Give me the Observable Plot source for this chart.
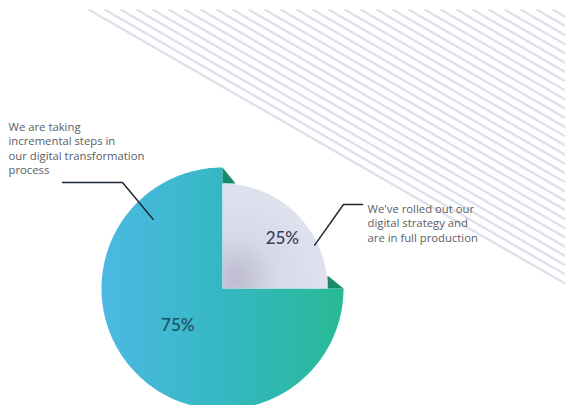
<!DOCTYPE html>
<html><head><meta charset="utf-8">
<script src="https://cdn.jsdelivr.net/npm/d3@7"></script>
<script src="https://cdn.jsdelivr.net/npm/@observablehq/plot@0.6"></script>
<style>
html,body{margin:0;padding:0;background:#fff;}
#chart{width:565px;height:405px;overflow:hidden;}
</style></head><body><div id="chart"></div>
<script>
// ---- data ----
const categories = [
  "We've rolled out our\ndigital strategy and\nare in full production",
  "We are taking\nincremental steps in\nour digital transformation\nprocess"
];
const values = [25, 75];
const valueLabels = ["25%", "75%"];

// ---- layout / style ----
const W = 565, H = 405;
const cx = 222, cy = 288;
const radii = [105, 121];
const fills = ["url(#gLav)", "url(#gTeal)"];
const labelColors = ["#3b3f58", "#1b4f62"];
const labelPos = [{r: 0.74, f: 0.56}, {r: 0.48, f: 0.52}];   // fraction of radius / of slice angle
const captionPos = [{x: 367, y: 202}, {x: 8, y: 120}];
const leaders = [
  {start: [362, 204], elbow: [343, 204], f: 0.72, r: 0.97},
  {start: [62, 182], elbow: [122, 182], f: 0.833, r: 0.81}
];
const flap = 13;

const total = d3.sum(values);
let cum = 0;
const slices = values.map((v, i) => {
  const a0 = cum / total * 2 * Math.PI;
  cum += v;
  const a1 = cum / total * 2 * Math.PI;
  return {i, v, a0, a1, r: radii[i]};
});
const pt = (a, r) => [cx + r * Math.sin(a), cy - r * Math.cos(a)];

const polys = slices.map(s => {
  const pts = [[cx, cy]];
  const n = Math.max(8, Math.ceil((s.a1 - s.a0) / 0.02));
  for (let k = 0; k <= n; k++) pts.push(pt(s.a0 + (s.a1 - s.a0) * k / n, s.r));
  pts.push([cx, cy]);
  return pts.map(p => ({x: p[0], y: p[1], i: s.i}));
});

// dark "fold" flaps of the big slice at the cut edges
const R1 = radii[1], R2 = radii[0];
const flaps = [
  [[cx, cy - R1], [cx + flap, cy - R2], [cx, cy - R2], [cx, cy - R1]],
  [[cx + R1, cy], [cx + R2, cy - flap], [cx + R2, cy], [cx + R1, cy]]
].flatMap((p, k) => p.map(q => ({x: q[0], y: q[1], k})));

// background diagonal stripes (decoration)
const stripeSlope = 0.575, stripeTop = 9;
const stripes = d3.range(88, W, 16).map(x0 => ({x1: x0, y1: stripeTop, x2: W, y2: stripeTop + (W - x0) * stripeSlope}));

const pctLabels = slices.map(s => {
  const a = s.a0 + (s.a1 - s.a0) * labelPos[s.i].f;
  const [x, y] = pt(a, s.r * labelPos[s.i].r);
  return {x, y, text: valueLabels[s.i], color: labelColors[s.i]};
});
const captions = slices.map(s => ({x: captionPos[s.i].x, y: captionPos[s.i].y, text: categories[s.i]}));
const leaderPts = slices.flatMap(s => {
  const L = leaders[s.i];
  const end = pt(s.a0 + (s.a1 - s.a0) * L.f, s.r * L.r);
  return [L.start, L.elbow, end].map(p => ({x: p[0], y: p[1], i: s.i}));
});

const font = "Lato, 'Open Sans', sans-serif";
const capFont = "'Open Sans', sans-serif";
const svg = Plot.plot({
  width: W, height: H,
  margin: 0,
  x: {domain: [0, W], range: [0, W], axis: null},
  y: {domain: [0, H], range: [0, H], axis: null},
  style: {background: "#fff"},
  marks: [
    Plot.link(stripes, {x1: "x1", y1: "y1", x2: "x2", y2: "y2", stroke: "#dee1e9", strokeWidth: 2.4}),
    Plot.line(polys[1], {x: "x", y: "y", fill: fills[1], stroke: "none", curve: "linear"}),
    Plot.line(flaps, {x: "x", y: "y", z: "k", fill: "#178a6c", stroke: "none"}),
    Plot.line(polys[0], {x: "x", y: "y", fill: fills[0], stroke: "none", curve: "linear"}),
    Plot.text(pctLabels, {x: "x", y: "y", text: "text", fill: "color", fontSize: 17, fontFamily: font, fontWeight: 500}),
    Plot.line(leaderPts, {x: "x", y: "y", z: "i", stroke: "#1f2a36", strokeWidth: 1.5}),
    Plot.text(captions, {x: "x", y: "y", text: "text", textAnchor: "start", lineAnchor: "top", lineHeight: 1.28, fontSize: 11.3, fontFamily: capFont, fill: "#5a5d66"})
  ]
});

const defs = d3.select(svg).insert("defs", ":first-child");
const gt = defs.append("linearGradient").attr("id", "gTeal").attr("x1", 0).attr("x2", 1).attr("y1", 0).attr("y2", 0);
gt.append("stop").attr("offset", 0).attr("stop-color", "#4cb9e3");
gt.append("stop").attr("offset", 0.5).attr("stop-color", "#35b8c2");
gt.append("stop").attr("offset", 1).attr("stop-color", "#28b995");
const gl = defs.append("radialGradient").attr("id", "gLav").attr("cx", 0.12).attr("cy", 0.9).attr("r", 0.8);
gl.append("stop").attr("offset", 0).attr("stop-color", "#bebcd0");
gl.append("stop").attr("offset", 0.5).attr("stop-color", "#d7d9ea");
gl.append("stop").attr("offset", 1).attr("stop-color", "#dfe1ef");

document.getElementById("chart").appendChild(svg);
</script></body></html>
